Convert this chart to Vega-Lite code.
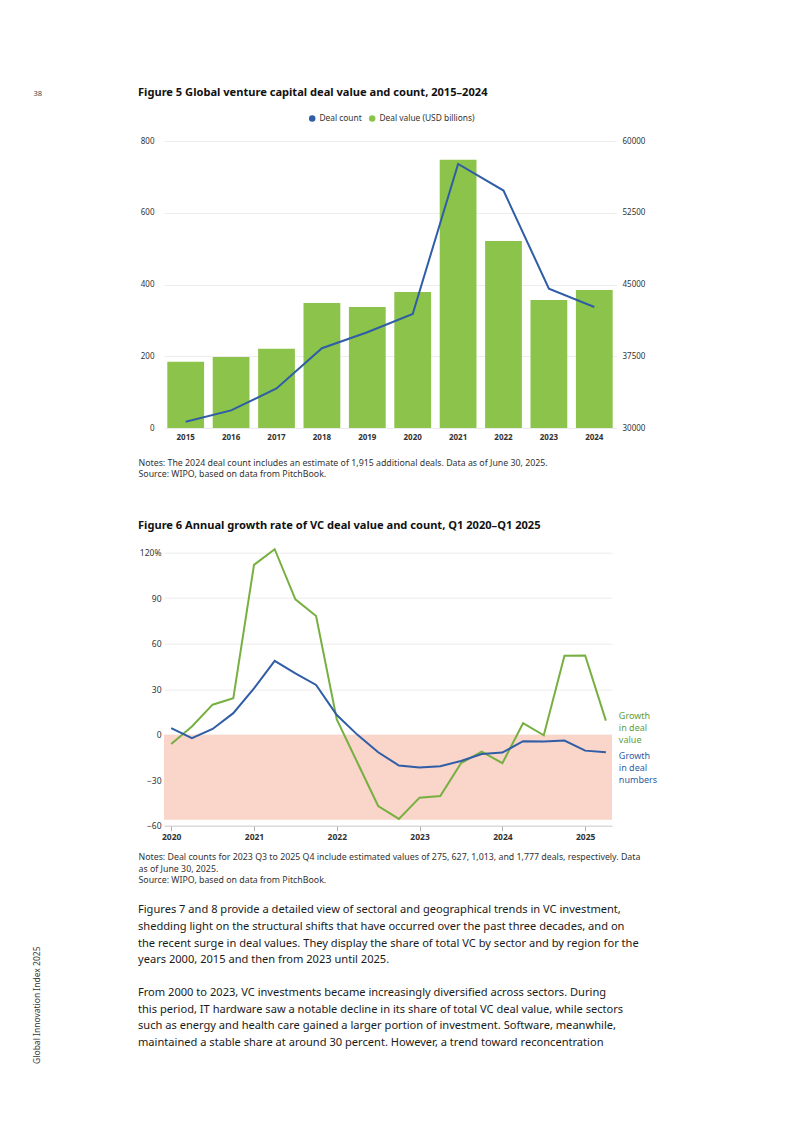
{
  "$schema": "https://vega.github.io/schema/vega-lite/v6.json",
  "autosize": {"type": "none"},
  "padding": {"left": 164, "top": 141, "right": 629, "bottom": 982},
  "background": "white",
  "config": {
    "font": "Noto Sans",
    "view": {"stroke": null},
    "axis": {"labelFont": "Noto Sans", "titleFont": "Noto Sans", "labelColor": "#333333", "gridColor": "#e8e8e8", "gridWidth": 0.8},
    "title": {"font": "Noto Sans", "subtitleFont": "Noto Sans"},
    "legend": {"labelFont": "Noto Sans"}
  },
  "datasets": {
    "fig5": [
      {"year": "2015", "value": 184.5, "count": 30660},
      {"year": "2016", "value": 198, "count": 31840},
      {"year": "2017", "value": 220.6, "count": 34140},
      {"year": "2018", "value": 348.5, "count": 38340},
      {"year": "2019", "value": 337.4, "count": 40010},
      {"year": "2020", "value": 379, "count": 41920},
      {"year": "2021", "value": 748, "count": 57600},
      {"year": "2022", "value": 521, "count": 54820},
      {"year": "2023", "value": 357, "count": 44560},
      {"year": "2024", "value": 384.7, "count": 42650}
    ],
    "fig6": [
      {"t": 2020.0, "series": "value", "g": -6.1}, {"t": 2020.0, "series": "numbers", "g": 4.3},
      {"t": 2020.25, "series": "value", "g": 5.4}, {"t": 2020.25, "series": "numbers", "g": -2.3},
      {"t": 2020.5, "series": "value", "g": 19.8}, {"t": 2020.5, "series": "numbers", "g": 3.8},
      {"t": 2020.75, "series": "value", "g": 24}, {"t": 2020.75, "series": "numbers", "g": 14.2},
      {"t": 2021.0, "series": "value", "g": 112}, {"t": 2021.0, "series": "numbers", "g": 30.6},
      {"t": 2021.25, "series": "value", "g": 122.3}, {"t": 2021.25, "series": "numbers", "g": 48.7},
      {"t": 2021.5, "series": "value", "g": 89.3}, {"t": 2021.5, "series": "numbers", "g": 40.5},
      {"t": 2021.75, "series": "value", "g": 78.3}, {"t": 2021.75, "series": "numbers", "g": 32.8},
      {"t": 2022.0, "series": "value", "g": 10}, {"t": 2022.0, "series": "numbers", "g": 13},
      {"t": 2022.25, "series": "value", "g": -18.5}, {"t": 2022.25, "series": "numbers", "g": -0.1},
      {"t": 2022.5, "series": "value", "g": -47}, {"t": 2022.5, "series": "numbers", "g": -11.6},
      {"t": 2022.75, "series": "value", "g": -55.5}, {"t": 2022.75, "series": "numbers", "g": -20.3},
      {"t": 2023.0, "series": "value", "g": -41.5}, {"t": 2023.0, "series": "numbers", "g": -21.7},
      {"t": 2023.25, "series": "value", "g": -40.4}, {"t": 2023.25, "series": "numbers", "g": -20.8},
      {"t": 2023.5, "series": "value", "g": -18.8}, {"t": 2023.5, "series": "numbers", "g": -17.3},
      {"t": 2023.75, "series": "value", "g": -11.1}, {"t": 2023.75, "series": "numbers", "g": -12.7},
      {"t": 2024.0, "series": "value", "g": -18.8}, {"t": 2024.0, "series": "numbers", "g": -11.8},
      {"t": 2024.25, "series": "value", "g": 7.6}, {"t": 2024.25, "series": "numbers", "g": -4.3},
      {"t": 2024.5, "series": "value", "g": -0.4}, {"t": 2024.5, "series": "numbers", "g": -4.5},
      {"t": 2024.75, "series": "value", "g": 52}, {"t": 2024.75, "series": "numbers", "g": -3.9},
      {"t": 2025.0, "series": "value", "g": 52.2}, {"t": 2025.0, "series": "numbers", "g": -10.5},
      {"t": 2025.25, "series": "value", "g": 9.3}, {"t": 2025.25, "series": "numbers", "g": -11.6}
    ],
    "zone": [{"lo": -56, "hi": 0}]
  },
  "title": {
    "text": [
      "Figures 7 and 8 provide a detailed view of sectoral and geographical trends in VC investment,",
      "shedding light on the structural shifts that have occurred over the past three decades, and on",
      "the recent surge in deal values. They display the share of total VC by sector and by region for the",
      "years 2000, 2015 and then from 2023 until 2025."
    ],
    "subtitle": [
      "From 2000 to 2023, VC investments became increasingly diversified across sectors. During",
      "this period, IT hardware saw a notable decline in its share of total VC deal value, while sectors",
      "such as energy and health care gained a larger portion of investment. Software, meanwhile,",
      "maintained a stable share at around 30 percent. However, a trend toward reconcentration"
    ],
    "orient": "bottom",
    "anchor": "start",
    "frame": "group",
    "dx": -26,
    "offset": -159,
    "fontSize": 11.1,
    "fontWeight": "normal",
    "color": "#1a1a1a",
    "lineHeight": 16.6,
    "subtitleFontSize": 11.1,
    "subtitleFontWeight": "normal",
    "subtitleColor": "#1a1a1a",
    "subtitleLineHeight": 16.6,
    "subtitlePadding": 22
  },
  "bounds": "flush",
  "spacing": 124.7,
  "resolve": {"scale": {"color": "independent"}, "legend": {"color": "independent"}},
  "vconcat": [
    {
      "width": 452,
      "height": 287,
      "title": {
        "text": "Figure 5 Global venture capital deal value and count, 2015–2024",
        "anchor": "start",
        "frame": "group",
        "dx": -26,
        "offset": -9,
        "fontSize": 11.1,
        "fontWeight": "bold",
        "color": "#111111"
      },
      "data": {"name": "fig5"},
      "encoding": {
        "x": {
          "field": "year",
          "type": "ordinal",
          "scale": {"paddingInner": 0.19, "paddingOuter": 0.073},
          "axis": {
            "labelAngle": 0,
            "labelFontSize": 8,
            "labelFontWeight": "bold",
            "labelColor": "#333333",
            "labelPadding": 5,
            "ticks": false,
            "domain": false,
            "title": ["Notes: The 2024 deal count includes an estimate of 1,915 additional deals. Data as of June 30, 2025.", "Source: WIPO, based on data from PitchBook."],
            "titleX": -26,
            "titleY": 30,
            "titleAlign": "left",
            "titleAnchor": "start",
            "titleBaseline": "top",
            "titleFontSize": 8.8,
            "titleFontWeight": "normal",
            "titleColor": "#333333",
            "titleLineHeight": 11.5
          }
        }
      },
      "layer": [
        {
          "mark": {"type": "bar"},
          "encoding": {
            "y": {
              "field": "value",
              "type": "quantitative",
              "scale": {"domain": [0, 800], "nice": false},
              "axis": {
                "values": [0, 200, 400, 600, 800],
                "labelFontSize": 8,
                "labelPadding": 10,
                "ticks": false,
                "domain": false,
                "grid": true,
                "title": "38",
                "titleAngle": 0,
                "titleX": -131,
                "titleY": -47.5,
                "titleAlign": "left",
                "titleBaseline": "middle",
                "titleFontSize": 7.5,
                "titleFontWeight": "normal",
                "titleColor": "#444444"
              }
            },
            "color": {
              "datum": "Deal value (USD billions)",
              "type": "nominal",
              "scale": {"domain": ["Deal count", "Deal value (USD billions)"], "range": ["#2F5DA6", "#8CC34B"]},
              "legend": {
                "title": null,
                "orient": "none",
                "direction": "horizontal",
                "legendX": 144,
                "legendY": -27,
                "symbolType": "circle",
                "symbolSize": 42,
                "symbolStrokeWidth": 0,
                "labelFontSize": 8.4,
                "labelColor": "#333333",
                "columnPadding": 6,
                "labelOffset": 3
              }
            }
          }
        },
        {
          "mark": {"type": "line", "strokeWidth": 2},
          "encoding": {
            "y": {
              "field": "count",
              "type": "quantitative",
              "scale": {"domain": [30000, 60000], "nice": false, "zero": false},
              "axis": {
                "orient": "right",
                "values": [30000, 37500, 45000, 52500, 60000],
                "format": "d",
                "labelFontSize": 8,
                "labelPadding": 6,
                "ticks": false,
                "domain": false,
                "grid": false,
                "title": null
              }
            },
            "color": {"datum": "Deal count", "type": "nominal"}
          }
        }
      ],
      "resolve": {"scale": {"y": "independent"}}
    },
    {
      "width": 448,
      "height": 273,
      "title": {
        "text": "Figure 6 Annual growth rate of VC deal value and count, Q1 2020–Q1 2025",
        "anchor": "start",
        "frame": "group",
        "dx": -26,
        "offset": 14.5,
        "fontSize": 11.1,
        "fontWeight": "bold",
        "color": "#111111"
      },
      "data": {"name": "fig6"},
      "layer": [
        {
          "data": {"name": "zone"},
          "mark": {"type": "rect", "color": "#F9D5CA"},
          "encoding": {
            "y": {"field": "lo", "type": "quantitative"},
            "y2": {"field": "hi"}
          }
        },
        {
          "mark": {"type": "line", "strokeWidth": 2},
          "encoding": {
            "x": {
              "field": "t",
              "type": "quantitative",
              "scale": {"domain": [2019.913, 2025.324], "nice": false, "zero": false},
              "axis": {
                "values": [2020, 2021, 2022, 2023, 2024, 2025],
                "format": "d",
                "labelFontSize": 8.5,
                "labelFontWeight": "bold",
                "labelColor": "#333333",
                "labelPadding": 2,
                "tickSize": 5,
                "tickColor": "#b0b0b0",
                "domainColor": "#d0d0d0",
                "grid": false,
                "title": ["Notes: Deal counts for 2023 Q3 to 2025 Q4 include estimated values of 275, 627, 1,013, and 1,777 deals, respectively. Data", "as of June 30, 2025.", "Source: WIPO, based on data from PitchBook."],
                "titleX": -26,
                "titleY": 27,
                "titleAlign": "left",
                "titleAnchor": "start",
                "titleBaseline": "top",
                "titleFontSize": 8.8,
                "titleFontWeight": "normal",
                "titleColor": "#333333",
                "titleLineHeight": 11.5
              }
            },
            "y": {
              "field": "g",
              "type": "quantitative",
              "scale": {"domain": [-60, 120], "nice": false},
              "axis": {
                "values": [-60, -30, 0, 30, 60, 90, 120],
                "labelExpr": "datum.value == 120 ? '120%' : datum.label",
                "labelFontSize": 8.5,
                "labelPadding": 3,
                "ticks": false,
                "domain": false,
                "grid": true,
                "title": "Global Innovation Index 2025",
                "titleAngle": 270,
                "titleX": -128,
                "titleY": 452,
                "titleAlign": "center",
                "titleBaseline": "middle",
                "titleFontSize": 8.5,
                "titleFontWeight": "normal",
                "titleColor": "#333333"
              }
            },
            "color": {
              "field": "series",
              "type": "nominal",
              "scale": {"domain": ["value", "numbers"], "range": ["#77B041", "#2F5DA6"]},
              "legend": null
            }
          }
        },
        {
          "transform": [
            {"filter": "datum.t == 2025.25 && datum.series == 'value'"},
            {"calculate": "'Growth|in deal|' + datum.series", "as": "lab"}
          ],
          "mark": {"type": "text", "align": "left", "baseline": "top", "dx": 13, "dy": -9, "fontSize": 9, "lineHeight": 12, "lineBreak": "|", "color": "#5E9E3A"},
          "encoding": {
            "x": {"field": "t", "type": "quantitative"},
            "y": {"field": "g", "type": "quantitative"},
            "text": {"field": "lab"}
          }
        },
        {
          "transform": [
            {"filter": "datum.t == 2025.25 && datum.series == 'numbers'"},
            {"calculate": "'Growth|in deal|' + datum.series", "as": "lab"}
          ],
          "mark": {"type": "text", "align": "left", "baseline": "top", "dx": 13, "dy": 0, "fontSize": 9, "lineHeight": 12, "lineBreak": "|", "color": "#2F5DA6"},
          "encoding": {
            "x": {"field": "t", "type": "quantitative"},
            "y": {"field": "g", "type": "quantitative"},
            "text": {"field": "lab"}
          }
        }
      ]
    }
  ]
}
